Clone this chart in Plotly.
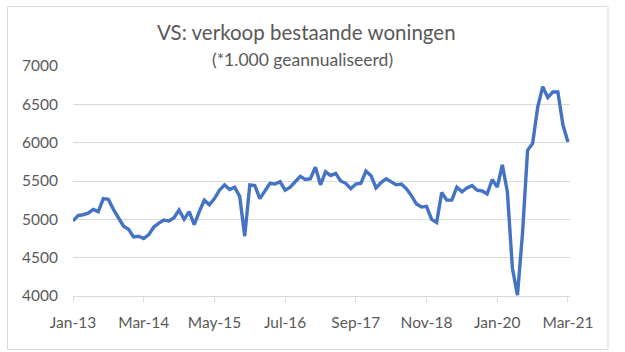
import plotly.graph_objects as go

# Monthly existing home sales (x1,000, annualized), Jan-2013 .. Mar-2021
months = ["Jan", "Feb", "Mar", "Apr", "May", "Jun", "Jul", "Aug", "Sep", "Oct", "Nov", "Dec"]
years = list(range(13, 22))
categories = [f"{m}-{y}" for y in years for m in months][:99]

sales = [
    4980, 5050, 5060, 5080, 5130, 5100, 5270, 5260, 5130, 5010, 4910, 4870,  # 2013
    4770, 4780, 4750, 4800, 4900, 4950, 4990, 4980, 5020, 5120, 5000, 5100,  # 2014
    4930, 5100, 5250, 5190, 5270, 5380, 5450, 5390, 5420, 5300, 4780, 5450,  # 2015
    5440, 5270, 5370, 5470, 5460, 5490, 5380, 5420, 5490, 5560, 5520, 5530,  # 2016
    5680, 5450, 5620, 5570, 5600, 5500, 5470, 5400, 5460, 5470, 5630, 5570,  # 2017
    5410, 5480, 5530, 5490, 5450, 5460, 5400, 5310, 5200, 5160, 5170, 5000,  # 2018
    4960, 5350, 5250, 5250, 5420, 5360, 5410, 5440, 5380, 5370, 5330, 5520,  # 2019
    5420, 5710, 5360, 4360, 4010, 4820, 5900, 5990, 6460, 6730, 6590, 6660,  # 2020
    6660, 6230, 6010,                                                        # 2021
]

tick_labels = ["Jan-13", "Mar-14", "May-15", "Jul-16", "Sep-17", "Nov-18", "Jan-20", "Mar-21"]
y_ticks = [4000, 4500, 5000, 5500, 6000, 6500, 7000]

title_text = "VS: verkoop bestaande woningen"
subtitle_text = "(*1.000 geannualiseerd)"

text_color = "#595959"
grid_color = "#d9d9d9"
line_color = "#4472C4"
font_family = "Lato, 'Open Sans', sans-serif"

fig = go.Figure()
fig.add_trace(go.Scatter(
    x=categories, y=sales, mode="lines",
    line=dict(color=line_color, width=3.4),
    hoverinfo="x+y",
))

fig.update_layout(
    width=625, height=352,
    margin=dict(l=73, r=55, t=66, b=56),
    paper_bgcolor="white", plot_bgcolor="white",
    showlegend=False,
    font=dict(family=font_family, color=text_color, size=15),
    xaxis=dict(
        type="category",
        range=[0, 98.4],
        tickmode="array", tickvals=tick_labels, ticktext=tick_labels,
        showgrid=False, zeroline=False,
        showline=True, linecolor=grid_color, linewidth=1,
        ticks="outside", ticklen=5, tickcolor=grid_color, tickwidth=1,
        tickfont=dict(size=15.5, color=text_color),
        ticklabelstandoff=7,
    ),
    yaxis=dict(
        range=[4000, 7000],
        tickmode="array", tickvals=y_ticks,
        showgrid=True, gridcolor=grid_color, gridwidth=1,
        zeroline=False, showline=False, ticks="",
        tickfont=dict(size=15.5, color=text_color),
        ticklabelstandoff=14,
    ),
    shapes=[dict(
        type="rect", xref="paper", yref="paper",
        x0=(7.5 - 73) / 497, x1=(608 - 73) / 497,
        y0=(296 - 349.5) / 230, y1=(296 - 6.5) / 230,
        line=dict(color=grid_color, width=1), fillcolor="rgba(0,0,0,0)",
        layer="below",
    )],
    annotations=[
        dict(text=title_text, xref="paper", yref="paper",
             x=(306 - 73) / 497, y=(296 - 32) / 230,
             xanchor="center", yanchor="middle", showarrow=False,
             font=dict(size=20.5, color=text_color, family=font_family)),
        dict(text=subtitle_text, xref="paper", yref="paper",
             x=(302.5 - 73) / 497, y=(296 - 60) / 230,
             xanchor="center", yanchor="middle", showarrow=False,
             font=dict(size=17.5, color=text_color, family=font_family)),
    ],
)

fig.write_html("out.html")
